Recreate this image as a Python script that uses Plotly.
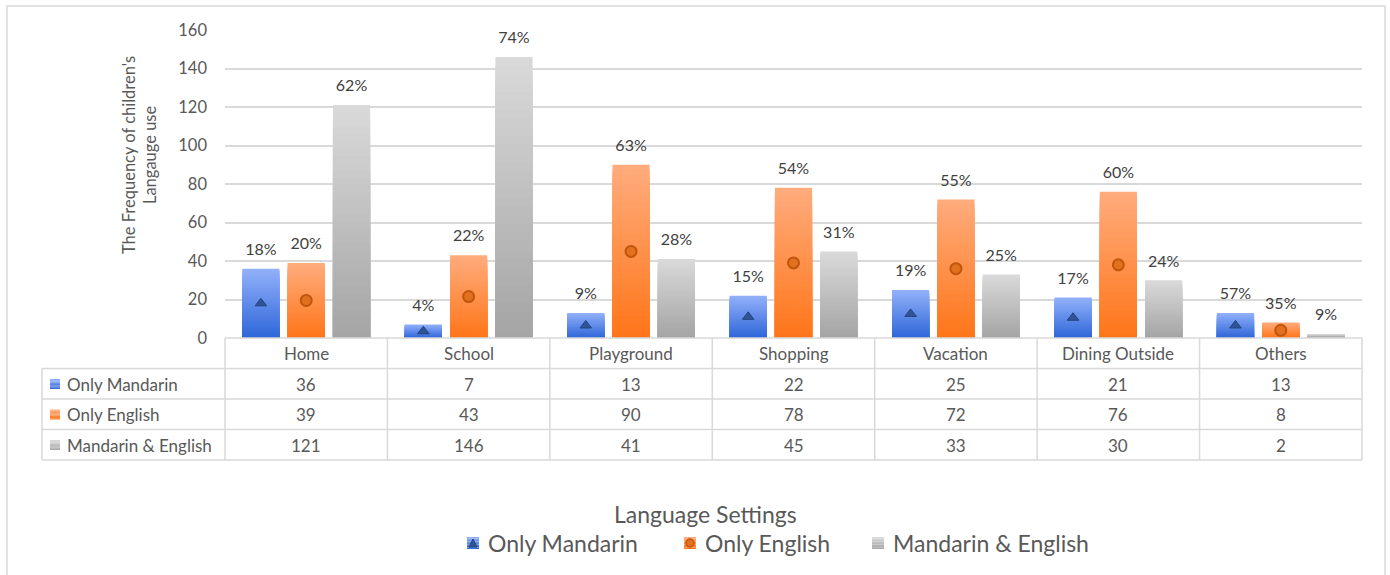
import plotly.graph_objects as go

# ---- data -------------------------------------------------------------
categories = ["Home", "School", "Playground", "Shopping", "Vacation",
              "Dining Outside", "Others"]
series_names = ["Only Mandarin", "Only English", "Mandarin & English"]

only_mandarin = [36, 7, 13, 22, 25, 21, 13]
only_english = [39, 43, 90, 78, 72, 76, 8]
mandarin_english = [121, 146, 41, 45, 33, 30, 2]

pct_mandarin = ["18%", "4%", "9%", "15%", "19%", "17%", "57%"]
pct_english = ["20%", "22%", "63%", "54%", "55%", "60%", "35%"]
pct_both = ["62%", "74%", "28%", "31%", "25%", "24%", "9%"]

y_ticks = [0, 20, 40, 60, 80, 100, 120, 140, 160]

# ---- styling ----------------------------------------------------------
FONT = "Lato"
TXT = "#595959"
GRID = "#D9D9D9"
W, H = 1390, 575
ML, MR, MT, MB = 225, 28, 30, 237
PW, PH = W - ML - MR, H - MT - MB

# (top colour, bottom colour) of each vertical gradient
gradients = [((0x93, 0xB1, 0xFA), (0x2E, 0x66, 0xD8)),
             ((0xFF, 0xAC, 0x7E), (0xFF, 0x75, 0x18)),
             ((0xDA, 0xDA, 0xDA), (0xA4, 0xA4, 0xA4))]


def mix(bot, top, f):
    return "rgb(%d,%d,%d)" % tuple(round(b + (t - b) * f) for b, t in zip(bot, top))


def px_x(px):
    return (px - ML) / PW


def px_y(py):
    return (H - MB - py) / PH


fig = go.Figure()

# ---- gradient bars: overlapping bars, each shorter one a shade darker ---
N = 32
series = [only_mandarin, only_english, mandarin_english]
pcts = [pct_mandarin, pct_english, pct_both]
for name, vals, (top, bot) in zip(series_names, series, gradients):
    for k in range(N):
        frac = (N - k) / N
        colour = mix(bot, top, (N - k - 0.5) / N)
        fig.add_trace(go.Bar(
            x=categories, y=[v * frac for v in vals], name=name,
            offsetgroup=name, showlegend=False,
            marker=dict(color=colour, line=dict(width=0)),
            hoverinfo="x+y+name" if k == 0 else "skip",
        ))

# ---- mid-height markers --------------------------------------------------
fig.add_trace(go.Scatter(
    x=categories, y=[v / 2 for v in only_mandarin], mode="markers",
    offsetgroup=series_names[0], showlegend=False, hoverinfo="skip",
    marker=dict(symbol="triangle-up", size=10, color="#2F5597",
                line=dict(color="#23437D", width=1))))
fig.add_trace(go.Scatter(
    x=categories, y=[v / 2 for v in only_english], mode="markers",
    offsetgroup=series_names[1], showlegend=False, hoverinfo="skip",
    marker=dict(symbol="circle", size=11, color="#E2701E",
                line=dict(color="#BF560E", width=2))))
fig.add_trace(go.Scatter(
    x=categories, y=[v / 2 for v in mandarin_english], mode="markers",
    offsetgroup=series_names[2], showlegend=False, hoverinfo="skip",
    marker=dict(size=1, opacity=0)))

# ---- percentage labels above each bar -------------------------------------
for name, vals, pct in zip(series_names, series, pcts):
    fig.add_trace(go.Scatter(
        x=categories, y=vals, mode="markers+text", text=pct,
        textposition="top center", offsetgroup=name, showlegend=False,
        hoverinfo="skip", cliponaxis=False,
        marker=dict(size=14, opacity=0),
        textfont=dict(family=FONT, size=16, color="#404040")))

shapes = []
annotations = []

# ---- outer chart frame ---------------------------------------------------
shapes.append(dict(type="rect", xref="paper", yref="paper",
                   x0=px_x(7), x1=px_x(1385), y0=px_y(590), y1=px_y(6),
                   line=dict(color=GRID, width=1.5), layer="below"))

# ---- data table ------------------------------------------------------------
row_lines = [338, 368.5, 399, 429.5, 460]
row_mid = [353.5, 384, 414.5, 445]
left_px = 42
line = dict(color=GRID, width=1.5)

for i, yl in enumerate(row_lines):
    x0 = 0 if i == 0 else px_x(left_px)
    shapes.append(dict(type="line", xref="paper", yref="paper",
                       x0=x0, x1=1, y0=px_y(yl), y1=px_y(yl), line=line))
n_cat = len(categories)
for i in range(n_cat + 1):
    shapes.append(dict(type="line", xref="paper", yref="paper",
                       x0=i / n_cat, x1=i / n_cat,
                       y0=px_y(row_lines[0]), y1=px_y(row_lines[-1]), line=line))
shapes.append(dict(type="line", xref="paper", yref="paper",
                   x0=px_x(left_px), x1=px_x(left_px),
                   y0=px_y(row_lines[1]), y1=px_y(row_lines[-1]), line=line))

cell_font = dict(family=FONT, size=17, color=TXT)
for c in categories:
    annotations.append(dict(x=c, xref="x", y=px_y(row_mid[0]), yref="paper",
                            text=c, showarrow=False, yanchor="middle",
                            font=cell_font))
for r, (name, vals) in enumerate(zip(series_names, series)):
    for c, v in zip(categories, vals):
        annotations.append(dict(x=c, xref="x", y=px_y(row_mid[r + 1]), yref="paper",
                                text=str(v), showarrow=False, yanchor="middle",
                                font=cell_font))


def gradient_square(x0, yc, size, top, bot, steps=8):
    """Small legend key filled with a vertical gradient (pixel inputs)."""
    out = []
    y0 = yc - size / 2
    for s in range(steps):
        ya = y0 + size * s / steps
        yb = y0 + size * (s + 1) / steps
        out.append(dict(type="rect", xref="paper", yref="paper",
                        x0=px_x(x0), x1=px_x(x0 + size),
                        y0=px_y(yb), y1=px_y(ya),
                        fillcolor=mix(bot, top, 1 - (s + 0.5) / steps),
                        line=dict(width=0)))
    return out


# row labels with keys
for r, name in enumerate(series_names):
    top, bot = gradients[r]
    shapes += gradient_square(50, row_mid[r + 1], 10, top, bot)
    annotations.append(dict(x=px_x(65), xref="paper", y=px_y(row_mid[r + 1]),
                            yref="paper", text=name, showarrow=False,
                            xanchor="left", yanchor="middle", font=cell_font))

# ---- legend ----------------------------------------------------------------
legend_font = dict(family=FONT, size=23, color=TXT)
annotations.append(dict(x=px_x(705), xref="paper", y=px_y(514), yref="paper",
                        text="Language Settings", showarrow=False,
                        xanchor="center", yanchor="middle", font=legend_font))
legend_items = [(467, 486), (684, 703), (872, 891)]
leg_y = 543
for r, (name, (kx, tx)) in enumerate(zip(series_names, legend_items)):
    top, bot = gradients[r]
    shapes += gradient_square(kx, leg_y, 12, top, bot)
    annotations.append(dict(x=px_x(tx), xref="paper", y=px_y(leg_y), yref="paper",
                            text=name, showarrow=False, xanchor="left",
                            yanchor="middle", font=legend_font))
# symbols inside the first two legend keys
cx = 467 + 6
shapes.append(dict(type="path", xref="paper", yref="paper",
                   path="M %f %f L %f %f L %f %f Z" % (
                       px_x(cx - 4), px_y(leg_y + 4), px_x(cx + 4), px_y(leg_y + 4),
                       px_x(cx), px_y(leg_y - 4)),
                   fillcolor="#2F5597", line=dict(color="#23437D", width=1)))
cx = 684 + 6
shapes.append(dict(type="circle", xref="paper", yref="paper",
                   x0=px_x(cx - 4), x1=px_x(cx + 4),
                   y0=px_y(leg_y + 4), y1=px_y(leg_y - 4),
                   fillcolor="#E2701E", line=dict(color="#BF560E", width=1.5)))

# ---- y-axis title ----------------------------------------------------------
annotations.append(dict(x=px_x(139), xref="paper", y=px_y(155), yref="paper",
                        text="The Frequency of children's<br>Langauge use",
                        textangle=-90, showarrow=False,
                        xanchor="center", yanchor="middle",
                        font=dict(family=FONT, size=16.5, color=TXT)))

fig.update_layout(
    width=W, height=H,
    margin=dict(l=ML, r=MR, t=MT, b=MB),
    paper_bgcolor="white", plot_bgcolor="white",
    barmode="group", bargap=0.163, bargroupgap=0.18,
    scattermode="group", scattergap=0.163,
    showlegend=False,
    font=dict(family=FONT, color=TXT),
    xaxis=dict(categoryorder="array", categoryarray=categories,
               showticklabels=False, showgrid=False, zeroline=False,
               showline=False, ticks=""),
    yaxis=dict(range=[0, 160], tickvals=y_ticks, showgrid=True,
               gridcolor=GRID, gridwidth=1.5, zeroline=False, showline=False,
               ticks="", ticklabelstandoff=17,
               tickfont=dict(family=FONT, size=16.5, color=TXT)),
    shapes=shapes, annotations=annotations,
)

fig.write_html("out.html")
